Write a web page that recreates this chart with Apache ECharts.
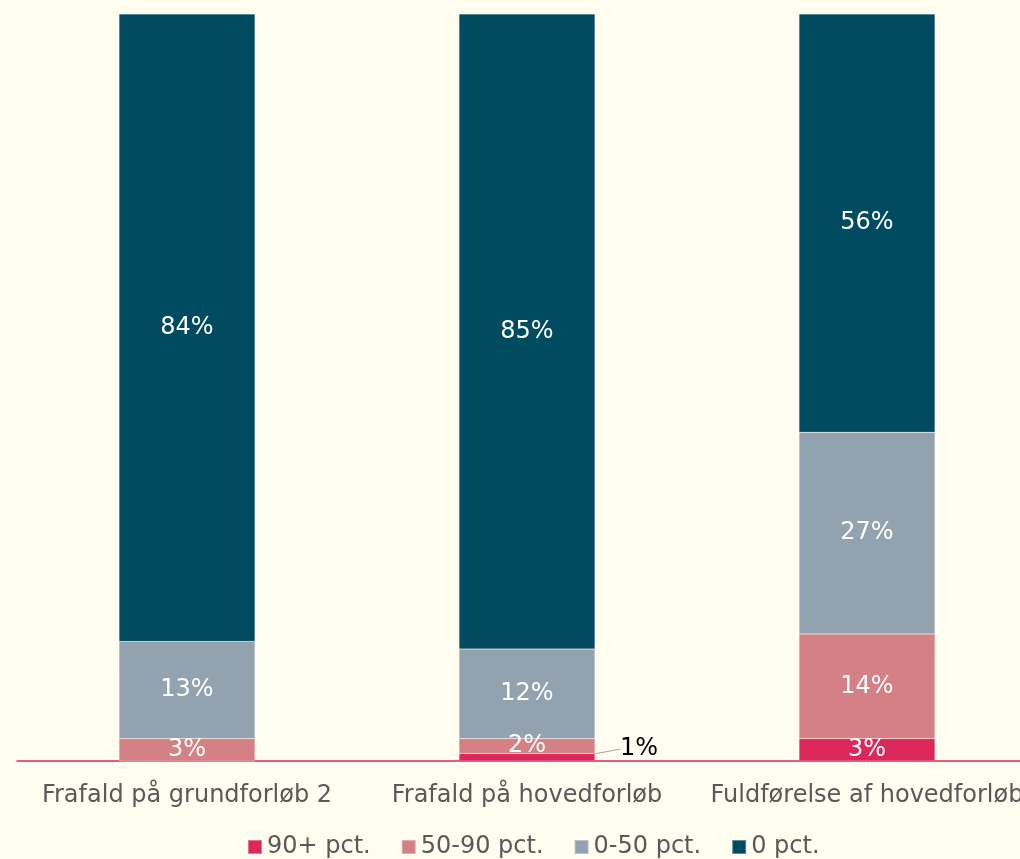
<!DOCTYPE html>
<html>
<head>
<meta charset="utf-8">
<script src="https://cdn.jsdelivr.net/npm/echarts@6/dist/echarts.min.js"></script>
<style>
  html, body { margin: 0; padding: 0; background: #FFFCF0; }
  #chart { width: 1020px; height: 859px; }
</style>
</head>
<body>
<div id="chart"></div>
<script>
// Andel elever efter fraværsgrad (pct.)
const categories = ['Frafald på grundforløb 2', 'Frafald på hovedforløb', 'Fuldførelse af hovedforløb'];
const seriesNames = ['90+ pct.', '50-90 pct.', '0-50 pct.', '0 pct.'];
const values90plus = [0, 1, 3];
const values50to90 = [3, 2, 14];
const values0to50 = [13, 12, 27];
const values0 = [84, 85, 56];
const colors = ['#DB2759', '#D48084', '#92A2AE', '#004B60'];

const FONT = 'DejaVu Sans';
const chart = echarts.init(document.getElementById('chart'));

function makeSeries(name, data, color, idx) {
  return {
    name: name,
    type: 'bar',
    stack: 'total',
    barWidth: '40%',
    data: data.map(function (v) {
      // the smallest segment carries its label outside, with a guide line
      if (idx === 0 && v > 0 && v < 2) {
        return {
          value: v,
          label: { position: 'right', color: '#000000' },
          labelLine: { show: true, lineStyle: { color: '#A6A6A6', width: 1 } }
        };
      }
      return v;
    }),
    itemStyle: { color: color, borderColor: 'rgba(255,255,255,0.35)', borderWidth: 0.5 },
    label: {
      show: true,
      position: 'inside',
      color: '#FFFFFF',
      fontFamily: FONT,
      fontSize: 24,
      formatter: function (p) { return p.value > 0 ? p.value + '%' : ''; }
    },
    labelLayout: function (p) {
      if (idx === 0 && p.dataIndex === 1) return { dx: 20, dy: -8 };
      return {};
    },
    emphasis: { disabled: true }
  };
}

chart.setOption({
  backgroundColor: '#FFFCF0',
  animation: false,
  color: colors,
  grid: { left: 17, top: 14, width: 1020, bottom: 98, outerBoundsMode: 'none' },
  legend: {
    top: 830,
    left: 242,
    itemWidth: 14,
    itemHeight: 14,
    itemGap: 30,
    icon: 'rect',
    textStyle: { fontFamily: FONT, fontSize: 24, color: '#595959' },
    data: seriesNames
  },
  xAxis: {
    type: 'category',
    data: categories,
    axisLine: { lineStyle: { color: '#DB2759', width: 1.5 } },
    axisTick: { show: false },
    axisLabel: { fontFamily: FONT, fontSize: 24, color: '#595959', margin: 23, interval: 0 }
  },
  yAxis: {
    type: 'value',
    min: 0,
    max: 100,
    show: false
  },
  series: [
    makeSeries(seriesNames[0], values90plus, colors[0], 0),
    makeSeries(seriesNames[1], values50to90, colors[1], 1),
    makeSeries(seriesNames[2], values0to50, colors[2], 2),
    makeSeries(seriesNames[3], values0, colors[3], 3)
  ]
});
</script>
</body>
</html>
